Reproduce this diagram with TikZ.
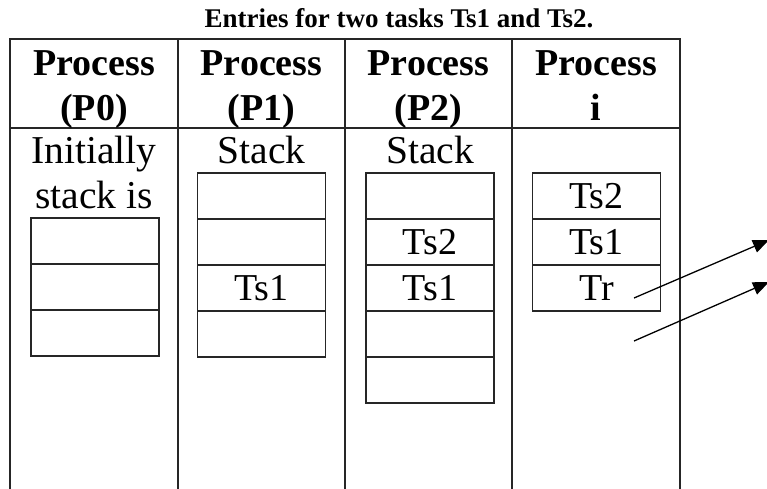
\documentclass[tikz,border=0pt]{standalone}
\usepackage{fontspec}
\setmainfont{Liberation Serif}
\usetikzlibrary{arrows.meta}

\tikzset{
  rule/.style={line width=1.3pt, draw=black!85},
  title/.style={anchor=base, inner sep=0pt, font=\fontsize{27}{30}\selectfont\bfseries},
  hdr/.style={anchor=base, inner sep=0pt, font=\fontsize{38}{42}\selectfont\bfseries},
  body/.style={anchor=base, inner sep=0pt, font=\fontsize{39.5}{42}\selectfont},
  cell/.style={rule, minimum width=128pt, minimum height=46pt, inner sep=0pt,
               font=\fontsize{38}{40}\selectfont},
  arr/.style={line width=1.3pt, -{Triangle[length=16pt, width=13pt]}},
}

\begin{document}
\begin{tikzpicture}[x=1pt, y=-1pt]
\useasboundingbox (0,0) rectangle (767,488);
\clip (0,0) rectangle (767,488);

% caption
\node[title] (cap) at (399,27) {Entries for two tasks Ts1 and Ts2.};

% table frame: open at the bottom
\draw[rule] (10,495) -- (10,39) -- (680,39) -- (680,495);
\draw[rule] (178,39) -- (178,495);
\draw[rule] (345,39) -- (345,495);
\draw[rule] (512,39) -- (512,495);
\draw[rule] (10,128) -- (680,128);

% column headings
\node[hdr] (h0a) at (94,75)  {Process};
\node[hdr] (h0b) at (94,120) {(P0)};
\node[hdr] (h1a) at (261.5,75)  {Process};
\node[hdr] (h1b) at (261.5,120) {(P1)};
\node[hdr] (h2a) at (428.5,75)  {Process};
\node[hdr] (h2b) at (428.5,120) {(P2)};
\node[hdr] (h3a) at (596,75)  {Process};
\node[hdr] (h3b) at (596,120) {i};

% process P0: initial stack
\node[body] (t0a) at (94,163) {Initially};
\node[body] (t0b) at (94,208) {stack is};
\node[cell] (p0c1) at (95,241) {};
\node[cell] (p0c2) at (95,287) {};
\node[cell] (p0c3) at (95,333) {};

% process P1
\node[body] (t1) at (261.5,163) {Stack};
\node[cell] (p1c1) at (261.5,196) {};
\node[cell] (p1c2) at (261.5,242) {};
\node[cell] (p1c3) at (261.5,288) {Ts1};
\node[cell] (p1c4) at (261.5,334) {};

% process P2
\node[body] (t2) at (430,163) {Stack};
\node[cell] (p2c1) at (430,196) {};
\node[cell] (p2c2) at (430,242) {Ts2};
\node[cell] (p2c3) at (430,288) {Ts1};
\node[cell] (p2c4) at (430,334) {};
\node[cell] (p2c5) at (430,380) {};

% process i
\node[cell] (p3c1) at (596.5,196) {Ts2};
\node[cell] (p3c2) at (596.5,242) {Ts1};
\node[cell] (p3c3) at (596.5,288) {Tr};

% outgoing arrows
\coordinate (a1s) at (634,298);
\coordinate (a1e) at (769,240);
\coordinate (a2s) at (634,341);
\coordinate (a2e) at (769,282);
\draw[arr] (a1s) -- (a1e);
\draw[arr] (a2s) -- (a2e);
\end{tikzpicture}
\end{document}
